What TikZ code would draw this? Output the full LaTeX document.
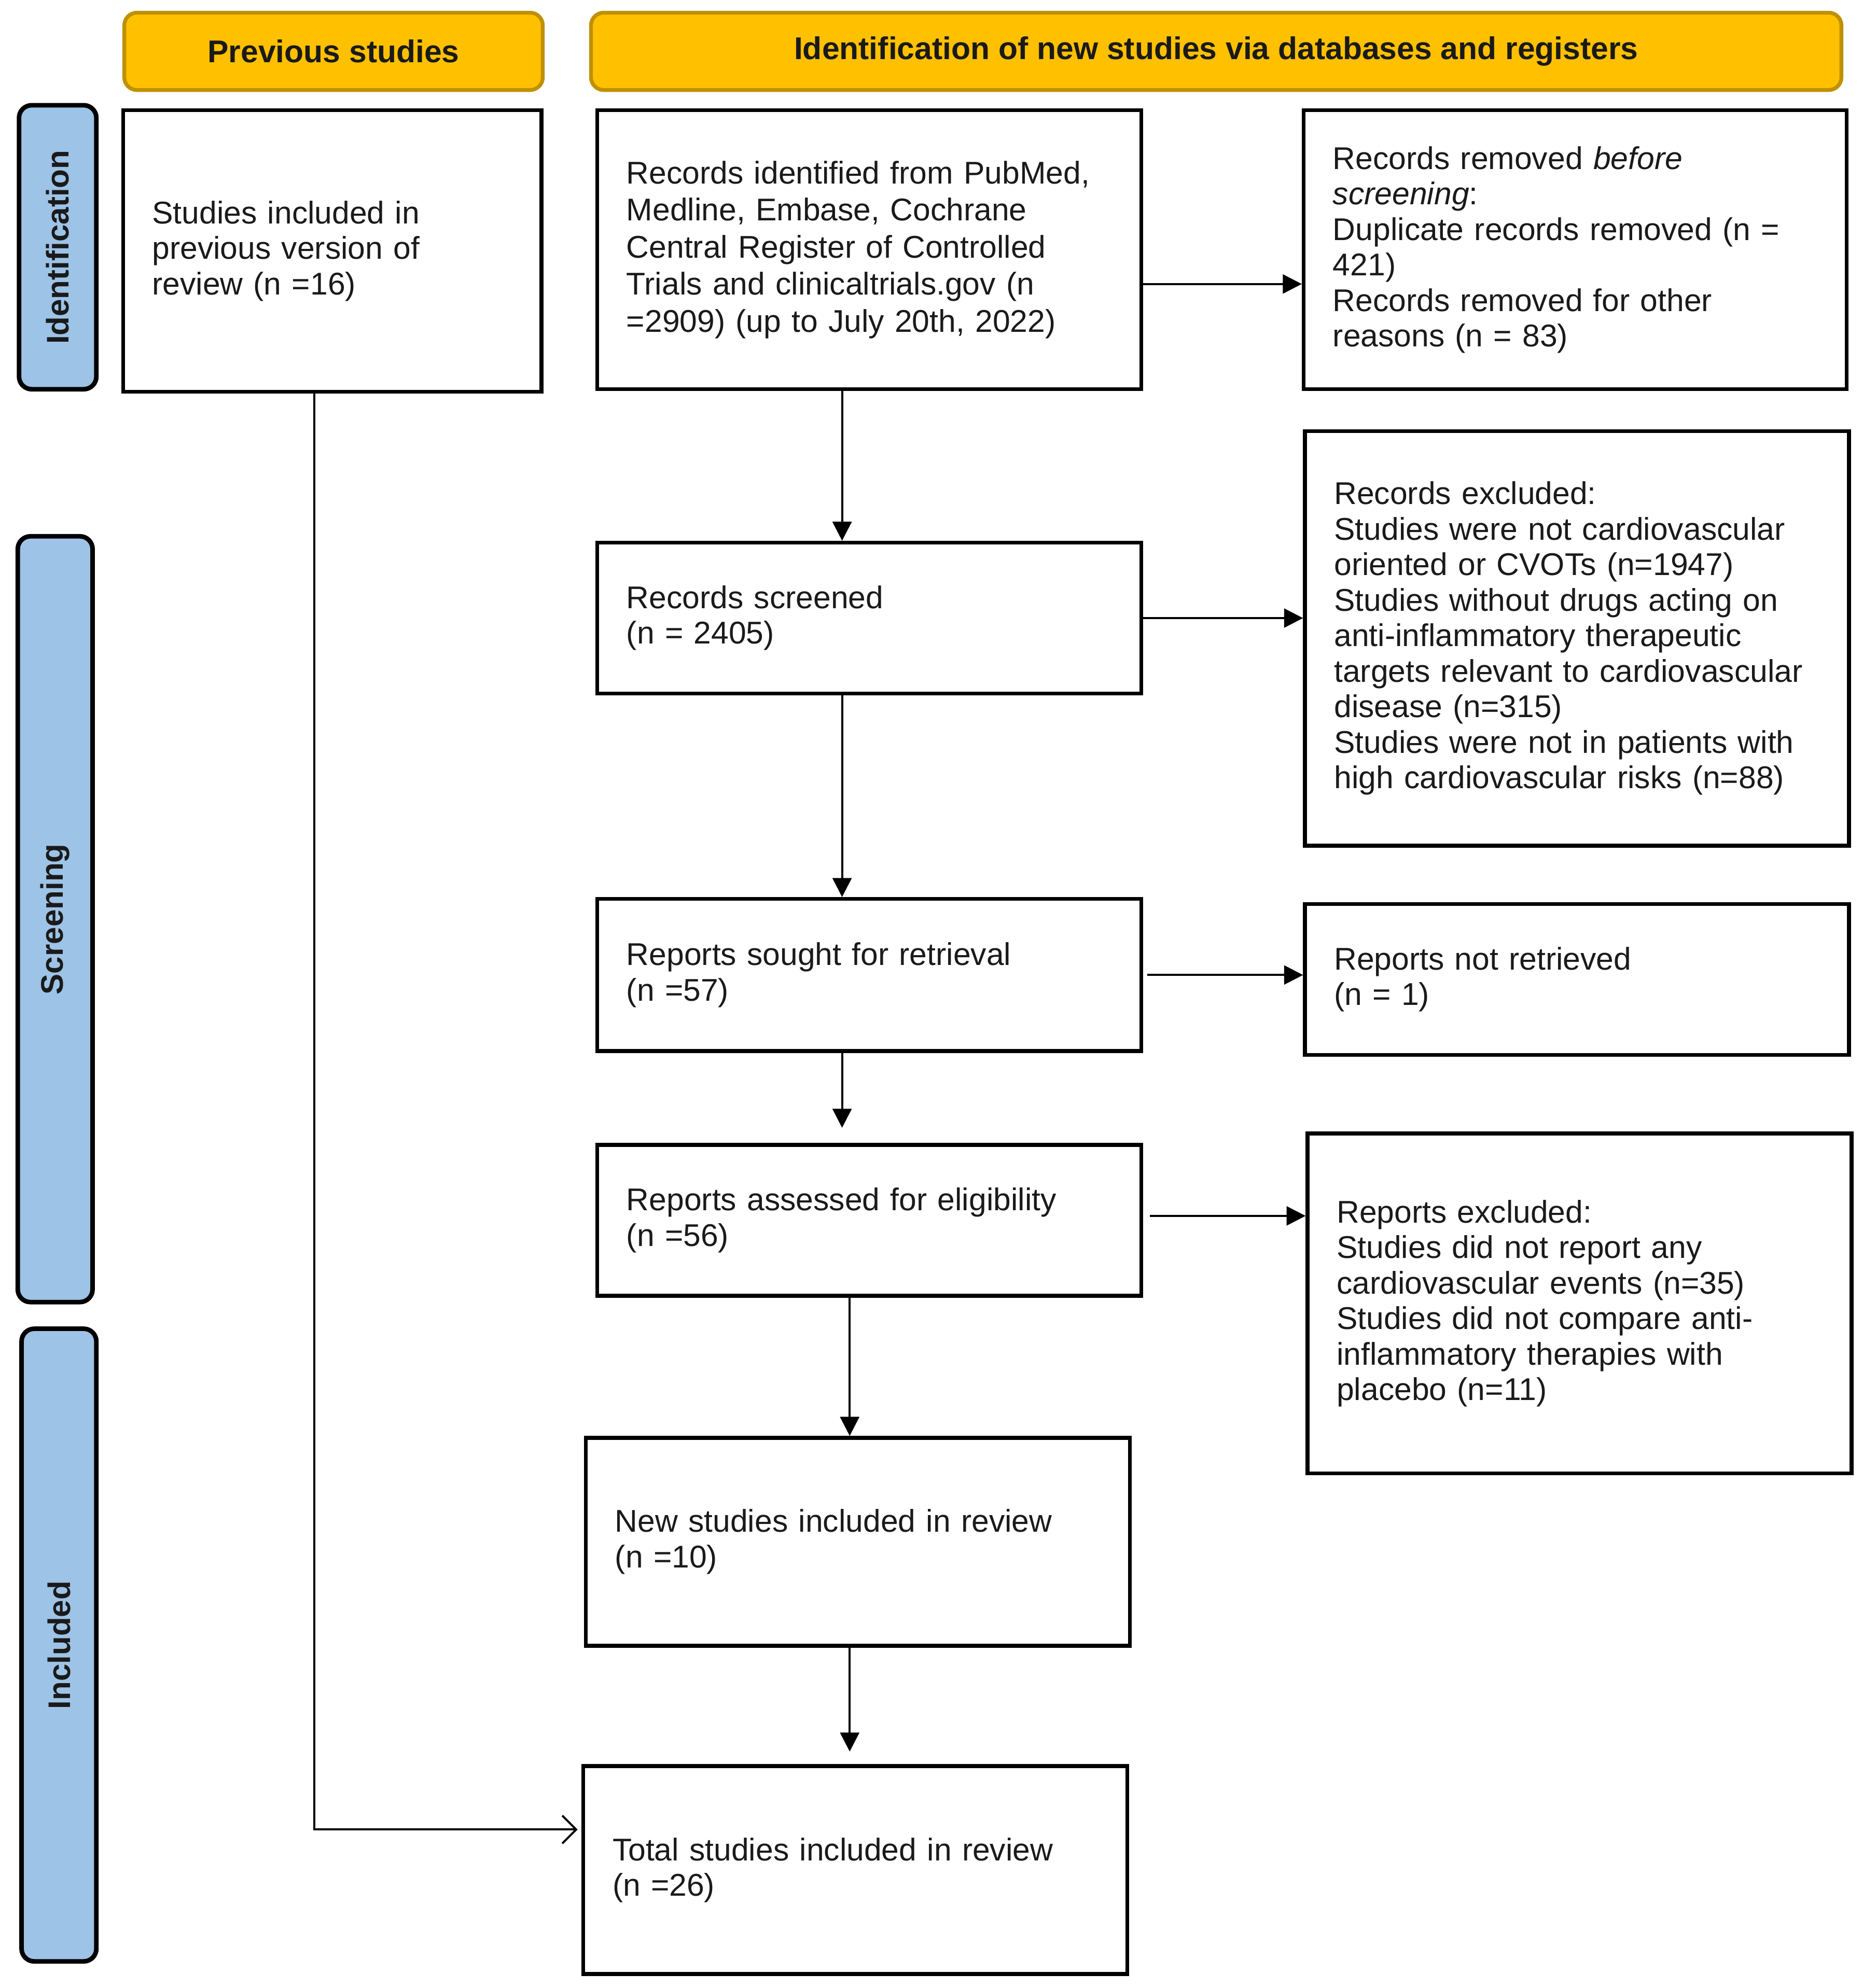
\documentclass[tikz,border=0pt]{standalone}
\usepackage{fontspec}
\setmainfont{Liberation Sans}
\usetikzlibrary{arrows.meta,calc}
\definecolor{hdrfill}{HTML}{FFC000}
\definecolor{hdrdraw}{HTML}{BF9000}
\definecolor{sidefill}{HTML}{9DC3E6}
\definecolor{txt}{HTML}{1A1A1A}
\begin{document}
\begin{tikzpicture}[x=0.5pt,y=-0.5pt,
  box/.style={draw, line width=1.5pt, rectangle, align=left, inner xsep=11.5pt, inner ysep=0pt,
    font=\fontsize{12.4}{14}\selectfont, text=txt},
  wbox/.style={box, minimum width=214.5pt, text width=191.5pt},
  hdr/.style={draw=hdrdraw, fill=hdrfill, line width=1.5pt, rounded corners=5pt, inner sep=0pt,
    font=\fontsize{12.4}{14}\selectfont\bfseries, text=txt},
  side/.style={draw=black, fill=sidefill, line width=1.8pt, rounded corners=5pt, rotate=90, inner sep=0pt,
    font=\fontsize{12.3}{14}\selectfont\bfseries, text=txt},
  arr/.style={line width=0.8pt, -{Triangle[length=7.5pt,width=7.5pt]}},
  openarr/.style={line width=0.8pt, -{Straight Barb[length=5.5pt,width=11pt]}}
]
\useasboundingbox (0,0) rectangle (1469,1568);

% headers
\node[hdr, minimum width=165pt, minimum height=30.5pt] (h1) at (263,40.5) {Previous studies};
\node[hdr, minimum width=493pt, minimum height=30.5pt] (h2) at (959,40.5) {Identification of new studies via databases and registers};

% side bars
\node[side, minimum width=112pt, minimum height=30.5pt] (s1) at (45.5,195) {Identification};
\node[side, minimum width=302pt, minimum height=29.5pt] (s2) at (43.5,725) {Screening};
\node[side, minimum width=249.5pt, minimum height=29.5pt] (s3) at (46.5,1297.5) {Included};

% boxes
\node[box, minimum width=165pt, text width=142pt, minimum height=111pt] (prev) at (262,198)
  {Studies included in\\ previous version of\\ review (n =16)};
\node[wbox, minimum height=110pt, font=\fontsize{12.4}{14.6}\selectfont] (ident) at (685.5,197)
  {Records identified from PubMed,\\ Medline, Embase, Cochrane\\ Central Register of Controlled\\ Trials and clinicaltrials.gov (n\\ =2909) (up to July 20th, 2022)};
\node[box, minimum width=214pt, text width=191pt, minimum height=110pt] (removed) at (1242,197)
  {Records removed \textit{before}\\ \textit{screening}:\\ Duplicate records removed (n =\\ 421)\\ Records removed for other\\ reasons (n = 83)};
\node[wbox, minimum height=59.5pt] (screened) at (685.5,487.5)
  {Records screened\\ (n = 2405)};
\node[wbox, minimum height=163.5pt] (excl) at (1243.5,503.5)
  {Records excluded:\\ Studies were not cardiovascular\\ oriented or CVOTs (n=1947)\\ Studies without drugs acting on\\ anti-inflammatory therapeutic\\ targets relevant to cardiovascular\\ disease (n=315)\\ Studies were not in patients with\\ high cardiovascular risks (n=88)};
\node[wbox, minimum height=60pt] (sought) at (685.5,769)
  {Reports sought for retrieval\\ (n =57)};
\node[wbox, minimum height=59.5pt] (notret) at (1243.5,772.5)
  {Reports not retrieved\\ (n = 1)};
\node[wbox, minimum height=59.5pt] (assessed) at (685.5,962.5)
  {Reports assessed for eligibility\\ (n =56)};
\node[wbox, minimum height=134pt] (repexcl) at (1245.5,1028)
  {Reports excluded:\\ Studies did not report any\\ cardiovascular events (n=35)\\ Studies did not compare anti-\\ inflammatory therapies with\\ placebo (n=11)};
\node[wbox, minimum height=82pt] (new) at (676.5,1216)
  {New studies included in review\\ (n =10)};
\node[wbox, minimum height=82pt] (total) at (674.5,1475)
  {Total studies included in review\\ (n =26)};

% connectors
\draw[arr] ([yshift=-13.5pt]ident.east) -- ([yshift=-13.5pt]removed.west);
\draw[arr] (screened.east) -- (screened.east -| excl.west);
\draw[arr] ([xshift=1.5pt]sought.east) -- (sought.east -| notret.west);
\draw[arr] ([xshift=2.5pt,yshift=1.75pt]assessed.east) -- ([yshift=1.75pt]assessed.east -| repexcl.west);
\draw[arr] ([xshift=-10.75pt]ident.south) -- ([xshift=-10.75pt]screened.north);
\draw[arr] ([xshift=-10.75pt]screened.south) -- ([xshift=-10.75pt]sought.north);
\draw[arr, shorten >=6pt] ([xshift=-10.75pt]sought.south) -- ([xshift=-10.75pt]assessed.north);
\draw[arr] ([xshift=-7.75pt]assessed.south) -- ([xshift=-7.75pt]assessed.south |- new.north);
\draw[arr, shorten >=5pt] ([xshift=-3.25pt]new.south) -- ([xshift=-3.25pt]new.south |- total.north);
\draw[openarr, shorten >=1.5pt] ([xshift=-7pt]prev.south) |- ([yshift=16pt]total.west);
\end{tikzpicture}
\end{document}
